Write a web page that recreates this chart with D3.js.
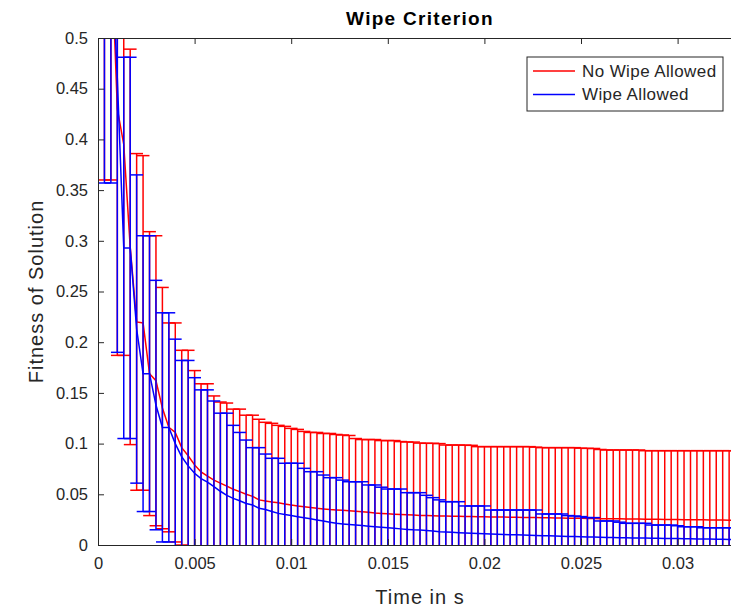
<!DOCTYPE html>
<html>
<head>
<meta charset="utf-8">
<script src="https://cdnjs.cloudflare.com/ajax/libs/d3/7.8.5/d3.min.js"></script>
<style>
body{margin:0;background:#fff;}
svg{display:block;}
.axis text{font-family:"Liberation Sans",Arial,Helvetica,sans-serif;font-size:16.5px;fill:#262626;}
.label{font-family:"Liberation Sans",Arial,Helvetica,sans-serif;font-size:20px;letter-spacing:1px;fill:#262626;}
.title{font-family:"Liberation Sans",Arial,Helvetica,sans-serif;font-size:19px;letter-spacing:1.3px;font-weight:bold;fill:#000;}
.leg{font-family:"Liberation Sans",Arial,Helvetica,sans-serif;font-size:17px;letter-spacing:0.4px;fill:#262626;}
</style>
</head>
<body>
<div id="chart"></div>
<script>
// sample times (s)
var times=[0.000333,0.000667,0.001,0.001333,0.001667,0.002,0.002333,0.002667,0.003,0.003333,
0.003667,0.004,0.004333,0.004667,0.005,0.005333,0.005667,0.006,0.006333,0.006667,
0.007,0.007333,0.007667,0.008,0.008333,0.008667,0.009,0.009333,0.009667,0.01,
0.010333,0.010667,0.011,0.011333,0.011667,0.012,0.012333,0.012667,0.013,0.013333,
0.013667,0.014,0.014333,0.014667,0.015,0.015333,0.015667,0.016,0.016333,0.016667,
0.017,0.017333,0.017667,0.018,0.018333,0.018667,0.019,0.019333,0.019667,0.02,
0.020333,0.020667,0.021,0.021333,0.021667,0.022,0.022333,0.022667,0.023,0.023333,
0.023667,0.024,0.024333,0.024667,0.025,0.025333,0.025667,0.026,0.026333,0.026667,
0.027,0.027333,0.027667,0.028,0.028333,0.028667,0.029,0.029333,0.029667,0.03,
0.030333,0.030667,0.031,0.031333,0.031667,0.032,0.032333,0.032667,0.033,0.033333];

var noWipeMean=[0.62,0.60,0.43,0.395,0.294,0.220,0.219,0.169,0.162,0.135,
0.116,0.111,0.096,0.088,0.079,0.072,0.068,0.064,0.061,0.058,
0.055,0.0526,0.050,0.048,0.0445,0.0435,0.0425,0.0417,0.0405,0.0395,
0.0385,0.0378,0.037,0.0362,0.0356,0.035,0.0346,0.0342,0.0337,0.0332,
0.0327,0.0322,0.0315,0.0311,0.0308,0.0304,0.0301,0.0298,0.0295,0.0292,
0.029,0.0288,0.0286,0.0285,0.0284,0.0283,0.0282,0.028,0.0279,0.0278,
0.0277,0.0276,0.0275,0.0274,0.0273,0.0272,0.0271,0.027,0.0269,0.0268,
0.0267,0.0266,0.0265,0.0264,0.0263,0.0262,0.0261,0.026,0.026,0.0259,
0.0258,0.0257,0.0256,0.0256,0.0255,0.0254,0.0253,0.0252,0.0252,0.0251,
0.025,0.0249,0.0249,0.0248,0.0247,0.0247,0.0246,0.0245,0.0245,0.0244];

var noWipeErr=[0.26,0.24,0.243,0.208,0.195,0.166,0.165,0.140,0.143,0.119,
0.103,0.108,0.096,0.104,0.093,0.087,0.091,0.083,0.080,0.082,
0.079,0.0814,0.078,0.080,0.0795,0.0775,0.0775,0.0763,0.0765,0.0755,
0.0755,0.0742,0.074,0.0748,0.0744,0.075,0.0744,0.0743,0.0743,0.0718,
0.0713,0.0718,0.0725,0.0719,0.0722,0.0726,0.0719,0.0718,0.072,0.0713,
0.0713,0.0715,0.0714,0.0701,0.0702,0.0703,0.0703,0.0703,0.0691,0.0692,
0.0693,0.0694,0.0695,0.0696,0.0697,0.0698,0.0699,0.0695,0.0691,0.0692,
0.0693,0.0694,0.0695,0.0696,0.0692,0.0691,0.0691,0.0682,0.0677,0.0678,
0.0679,0.068,0.0681,0.0681,0.0675,0.0676,0.0677,0.0678,0.0678,0.0679,
0.068,0.0681,0.0681,0.0682,0.0683,0.0683,0.0684,0.0685,0.0685,0.0686];

var wipeMean=[0.60,0.60,0.46,0.293,0.293,0.213,0.169,0.169,0.138,0.116,
0.116,0.100,0.087,0.078,0.0707,0.0655,0.062,0.0575,0.053,0.049,
0.046,0.0437,0.041,0.0394,0.0362,0.035,0.033,0.0312,0.030,0.029,
0.0279,0.0268,0.0258,0.0247,0.0236,0.0225,0.0214,0.0208,0.0203,0.0197,
0.0192,0.0186,0.018,0.0175,0.017,0.0164,0.0159,0.0154,0.015,0.0148,
0.0143,0.0138,0.0131,0.0128,0.0125,0.0122,0.0119,0.0116,0.0113,0.011,
0.0108,0.0106,0.0104,0.0102,0.01,0.0098,0.0096,0.0094,0.0092,0.009,
0.0088,0.0087,0.0085,0.0083,0.0082,0.008,0.0078,0.0077,0.0075,0.0074,
0.0072,0.0071,0.007,0.0069,0.0068,0.0067,0.0066,0.0065,0.0064,0.0063,
0.0062,0.0061,0.006,0.0059,0.0058,0.0057,0.0056,0.0055,0.0054,0.0053];

var wipeErr=[0.243,0.243,0.27,0.188,0.188,0.152,0.136,0.136,0.123,0.113,
0.113,0.103,0.095,0.104,0.0943,0.0875,0.091,0.0845,0.077,0.081,
0.072,0.0673,0.0625,0.0566,0.0598,0.0547,0.0525,0.0543,0.0506,0.0516,
0.0527,0.0488,0.0465,0.0476,0.0454,0.0439,0.045,0.0432,0.0421,0.0427,
0.0432,0.0406,0.0412,0.0395,0.0382,0.0388,0.0393,0.0362,0.0366,0.0368,
0.0347,0.0329,0.0314,0.0299,0.0302,0.0305,0.0266,0.0269,0.0272,0.0275,
0.0237,0.0239,0.0241,0.0243,0.0245,0.0247,0.0249,0.0251,0.0214,0.0216,
0.0218,0.0219,0.0205,0.0203,0.0198,0.019,0.0192,0.016,0.0162,0.0163,
0.0153,0.0143,0.0144,0.0145,0.0146,0.013,0.0131,0.0132,0.0133,0.0127,
0.0118,0.0119,0.012,0.0111,0.0112,0.0113,0.0114,0.0115,0.0116,0.0117];

var xTicks=[0,0.005,0.01,0.015,0.02,0.025,0.03];
var xTickLabels=["0","0.005","0.01","0.015","0.02","0.025","0.03"];
var yTicks=[0,0.05,0.1,0.15,0.2,0.25,0.3,0.35,0.4,0.45,0.5];
var yTickLabels=["0","0.05","0.1","0.15","0.2","0.25","0.3","0.35","0.4","0.45","0.5"];
var seriesNames=["No Wipe Allowed","Wipe Allowed"];
var seriesColors=["#ff0000","#0000ff"];

var W=731,H=609;
var margin={top:38,left:98,right:-11,bottom:64};
var width=W-margin.left-margin.right,
    height=H-margin.top-margin.bottom;
var axisColor="#262626";

var svg=d3.select("#chart").append("svg")
    .attr("width",W).attr("height",H);
svg.append("rect").attr("width",W).attr("height",H).attr("fill","#fff");

var g=svg.append("g").attr("transform","translate("+margin.left+","+margin.top+")");

var xScale=d3.scaleLinear().domain([0,times[times.length-1]]).range([0,width]);
var yScale=d3.scaleLinear().domain([0,0.5]).range([height,0]);

svg.append("defs").append("clipPath").attr("id","plot-clip")
  .append("rect").attr("width",width).attr("height",height);

// matlab-style cap: 1% of x range on each side
var tee=(d3.max(times)-d3.min(times))/100;

var series=[
  {name:seriesNames[0],color:seriesColors[0],mean:noWipeMean,err:noWipeErr},
  {name:seriesNames[1],color:seriesColors[1],mean:wipeMean,err:wipeErr}
];

var plot=g.append("g").attr("clip-path","url(#plot-clip)");
var line=d3.line().x(function(d){return xScale(d.x);}).y(function(d){return yScale(d.y);});

series.forEach(function(s){
  var pts=times.map(function(t,i){return {x:t,y:s.mean[i],e:s.err[i]};});
  var sg=plot.append("g").attr("stroke",s.color).attr("stroke-width",1.5).attr("fill","none");
  var bars=sg.selectAll(".eb").data(pts).enter().append("g").attr("class","eb");
  bars.append("line")
    .attr("x1",function(d){return xScale(d.x);}).attr("x2",function(d){return xScale(d.x);})
    .attr("y1",function(d){return yScale(d.y-d.e);}).attr("y2",function(d){return yScale(d.y+d.e);});
  bars.append("line")
    .attr("x1",function(d){return xScale(d.x-tee);}).attr("x2",function(d){return xScale(d.x+tee);})
    .attr("y1",function(d){return yScale(d.y+d.e);}).attr("y2",function(d){return yScale(d.y+d.e);});
  bars.append("line")
    .attr("x1",function(d){return xScale(d.x-tee);}).attr("x2",function(d){return xScale(d.x+tee);})
    .attr("y1",function(d){return yScale(d.y-d.e);}).attr("y2",function(d){return yScale(d.y-d.e);});
  sg.append("path").attr("d",line(pts));
});

// axes (ticks inward, box on)
var xAxis=d3.axisBottom(xScale).tickValues(xTicks).tickFormat(function(d,i){return xTickLabels[i];})
    .tickSizeInner(-6).tickSizeOuter(0).tickPadding(12);
var yAxis=d3.axisLeft(yScale).tickValues(yTicks).tickFormat(function(d,i){return yTickLabels[i];})
    .tickSizeInner(-6).tickSizeOuter(0).tickPadding(10);
var xTop=d3.axisTop(xScale).tickValues(xTicks).tickFormat("").tickSizeInner(-6).tickSizeOuter(0);

var gx=g.append("g").attr("class","axis").attr("transform","translate(0,"+height+")").call(xAxis);
var gy=g.append("g").attr("class","axis").call(yAxis);
var gt=g.append("g").attr("class","axis").call(xTop);
[gx,gy,gt].forEach(function(a){
  a.selectAll("path,line").attr("stroke",axisColor).attr("stroke-width",1);
});
gx.selectAll("text").attr("dy","0.71em");

g.append("line").attr("x1",width).attr("x2",width).attr("y1",0).attr("y2",height)
  .attr("stroke",axisColor);

// labels
svg.append("text").attr("class","title").attr("x",margin.left+width/2).attr("y",25)
  .attr("text-anchor","middle").text("Wipe Criterion");
svg.append("text").attr("class","label").attr("x",margin.left+width/2).attr("y",604)
  .attr("text-anchor","middle").text("Time in s");
svg.append("text").attr("class","label")
  .attr("transform","translate(43,"+(margin.top+height/2)+") rotate(-90)")
  .attr("text-anchor","middle").text("Fitness of Solution");

// legend
var leg=svg.append("g").attr("transform","translate(527,57)");
leg.append("rect").attr("width",196).attr("height",54).attr("fill","#fff")
  .attr("stroke",axisColor).attr("stroke-width",1);
series.forEach(function(s,i){
  var yy=14+i*23.5;
  leg.append("line").attr("x1",6).attr("x2",48).attr("y1",yy).attr("y2",yy)
    .attr("stroke",s.color).attr("stroke-width",1.5);
  leg.append("text").attr("class","leg").attr("x",55).attr("y",yy).attr("dy","0.35em").text(s.name);
});
</script>
</body>
</html>
